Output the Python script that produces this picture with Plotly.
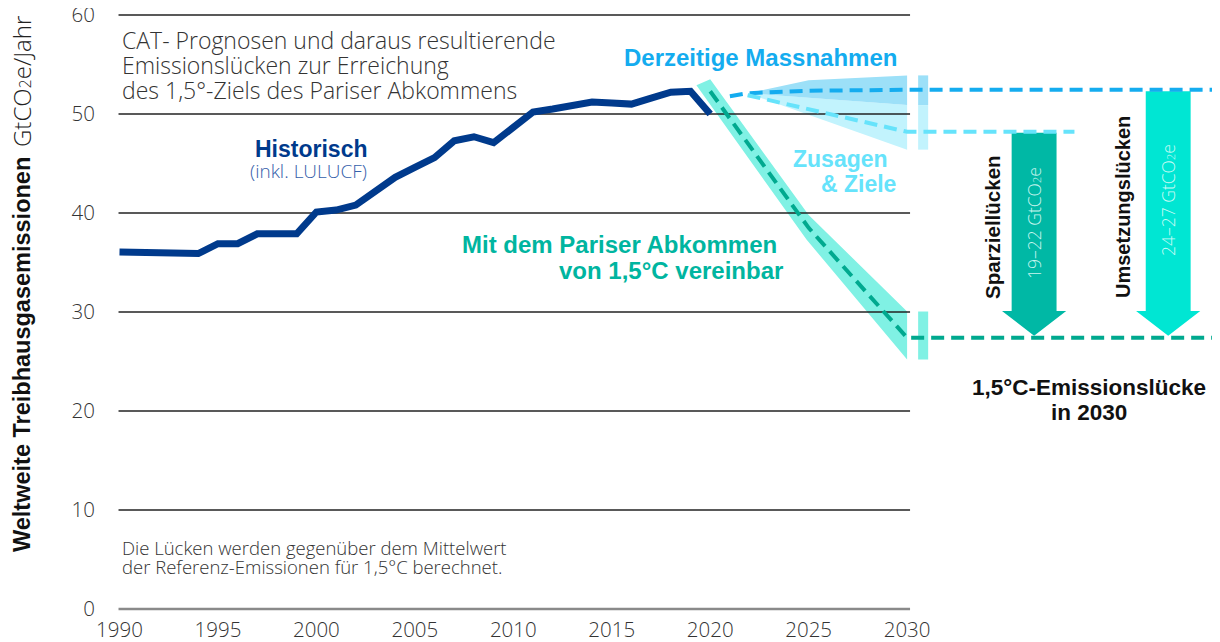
import plotly.graph_objects as go

# ---------------- data ----------------
hist_years = list(range(1990, 2021))
hist_values = [36.05, 36.0, 36.0, 35.95, 35.9, 36.9, 36.9, 37.9, 37.9, 37.9,
               40.1, 40.3, 40.8, 42.2, 43.6, 44.6, 45.6, 47.3, 47.7, 47.1,
               48.7, 50.2, 50.5, 50.8, 51.2, 51.1, 51.0, 51.6, 52.2, 52.3, 50.0]

# current policy projection (dashed) and its range
cpp_years = [2021.0, 2021.9, 2025, 2030]
cpp_values = [51.8, 52.1, 52.35, 52.45]
band_years = [2021.9, 2025, 2030]
cpp_high = [52.1, 53.4, 53.9]
cpp_low = [52.1, 51.65, 50.9]
# pledges & targets
pledge_years = [2021.9, 2030]
pledge_values = [51.9, 48.2]
pledge_low = [52.1, 49.9, 46.4]
# 1.5°C compatible pathway
ref_years = [2020, 2025, 2030]
ref_values = [52.3, 38.5, 27.4]
ref_high_years = [2020.0, 2025.0, 2030]
ref_high = [53.5, 39.8, 30.05]
ref_low_years = [2019.3, 2024.9, 2030]
ref_low = [52.9, 37.3, 25.2]

year_ticks = list(range(1990, 2031, 5))
value_ticks = list(range(0, 61, 10))

# ---------------- layout geometry ----------------
OFF = 8                      # page body margin
FIG_W, FIG_H = 1220 - OFF, 642 - OFF
L, T = 100 - OFF, 0
W = FIG_W - L
H = 612 - OFF
PX_PER_YEAR = 19.69
PX_PER_UNIT = 9.9
X0 = 1990 - (119.5 - 100) / PX_PER_YEAR
X1 = X0 + W / PX_PER_YEAR
Y1 = 60 + (15 - OFF) / PX_PER_UNIT
Y0 = Y1 - H / PX_PER_UNIT
EXT_END = 2047
PLEDGE_EXT_END = 2038.5
BAR_X = (2030.56, 2031.07)
GRID_X = (1989.95, 2030.15)

NAVY = "#003a8c"
CPP_C = "#14acef"
CPP_BAND = "#9ce0f8"
PLEDGE_C = "#66e3fb"
PLEDGE_BAND = "#c2f3fd"
REF_C = "#00a98f"
REF_BAND = "#80f1e4"
SPAR_C = "#00b8a5"
UMS_C = "#00e6d3"
TXT = "#333333"

LIGHT = "Open Sans"
BOLD = "Liberation Sans"

fig = go.Figure()

def poly(xs, ys, color):
    fig.add_trace(go.Scatter(x=xs, y=ys, fill="toself", fillcolor=color,
                             mode="lines", line=dict(width=0, color=color),
                             hoverinfo="skip", showlegend=False))

# pledges band (light) and current policy band (darker)
poly(band_years + band_years[::-1], cpp_low + pledge_low[::-1], PLEDGE_BAND)
poly(band_years + band_years[::-1], cpp_high + cpp_low[::-1], CPP_BAND)
# 1.5°C band
poly(ref_high_years + ref_low_years[::-1], ref_high + ref_low[::-1], REF_BAND)

# range bars at 2030
bx = [BAR_X[0], BAR_X[1], BAR_X[1], BAR_X[0], BAR_X[0]]
poly(bx, [cpp_high[-1], cpp_high[-1], cpp_low[-1], cpp_low[-1], cpp_high[-1]], CPP_BAND)
poly(bx, [cpp_low[-1], cpp_low[-1], pledge_low[-1], pledge_low[-1], cpp_low[-1]], PLEDGE_BAND)
poly(bx, [ref_high[-1], ref_high[-1], ref_low[-1], ref_low[-1], ref_high[-1]], REF_BAND)

# gridlines
gx, gy = [], []
for v in value_ticks[1:]:
    gx += [GRID_X[0], GRID_X[1], None]
    gy += [v, v, None]
fig.add_trace(go.Scatter(x=gx, y=gy, mode="lines", line=dict(color="#222222", width=1.3),
                         hoverinfo="skip", showlegend=False))
fig.add_trace(go.Scatter(x=list(GRID_X), y=[0, 0], mode="lines",
                         line=dict(color="#8a8a8a", width=2.5),
                         hoverinfo="skip", showlegend=False))

# arrows (gaps)
HEAD_LEN = 2.5
def arrow(xc, half_body, half_head, top, tip, color):
    hy = tip + HEAD_LEN
    xs = [xc - half_body, xc + half_body, xc + half_body, xc + half_head, xc,
          xc - half_head, xc - half_body, xc - half_body]
    ys = [top, top, hy, hy, tip, hy, hy, top]
    poly(xs, ys, color)

arrow(2036.45, 1.14, 1.63, pledge_values[-1] - 0.1, ref_values[-1] + 0.2, SPAR_C)
arrow(2043.26, 1.14, 1.63, cpp_values[-1] - 0.15, ref_values[-1] + 0.2, UMS_C)

# historical line
fig.add_trace(go.Scatter(x=hist_years, y=hist_values, mode="lines",
                         line=dict(color=NAVY, width=7), hoverinfo="skip", showlegend=False))

DASH = "13px,7px"
fig.add_trace(go.Scatter(x=cpp_years + [EXT_END], y=cpp_values + [cpp_values[-1]], mode="lines",
                         line=dict(color=CPP_C, width=4, dash=DASH), hoverinfo="skip", showlegend=False))
fig.add_trace(go.Scatter(x=pledge_years + [PLEDGE_EXT_END], y=pledge_values + [pledge_values[-1]],
                         mode="lines", line=dict(color=PLEDGE_C, width=4, dash=DASH),
                         hoverinfo="skip", showlegend=False))
fig.add_trace(go.Scatter(x=ref_years + [EXT_END], y=ref_values + [ref_values[-1]], mode="lines",
                         line=dict(color=REF_C, width=4, dash=DASH), hoverinfo="skip", showlegend=False))

# ---------------- annotations (positions in window pixels) ----------------
def P(px, py):
    return (px - OFF - L) / W, 1 - (py - OFF - T) / H

anns = []
def add(text, px, py, size, color, family=LIGHT, weight=300, xanchor="left", angle=0):
    x, y = P(px, py)
    anns.append(dict(text=text, x=x, y=y, xref="paper", yref="paper", showarrow=False,
                     xanchor=xanchor, yanchor="middle", textangle=angle,
                     font=dict(family=family, size=size, color=color, weight=weight)))

for txt, py in [("CAT- Prognosen und daraus resultierende", 40),
                ("Emissionslücken zur Erreichung", 65),
                ("des 1,5°-Ziels des Pariser Abkommens", 90)]:
    add(txt, 120, py, 23, TXT)

add("Historisch", 369, 149, 23, NAVY, BOLD, 700, "right")
add("(inkl. LULUCF)", 369, 171, 19, "#3560aa", LIGHT, 300, "right")
add("Derzeitige Massnahmen", 760, 57, 24, CPP_C, BOLD, 700, "center")
add("Zusagen", 890, 159, 23, PLEDGE_C, BOLD, 700, "right")
add("& Ziele", 898, 184, 23, PLEDGE_C, BOLD, 700, "right")
add("Mit dem Pariser Abkommen", 779, 245, 24, "#00b5a0", BOLD, 700, "right")
add("von 1,5°C vereinbar", 785, 270, 24, "#00b5a0", BOLD, 700, "right")
add("Sparziellücken", 992, 227, 20.5, "#111111", BOLD, 700, "center", -90)
add("19–22 GtCO<span style='font-size:11px'>2</span>e", 1034, 223, 17.5, "#c9f5ef", LIGHT, 300, "center", -90)
add("Umsetzungslücken", 1123, 207, 20, "#111111", BOLD, 700, "center", -90)
add("24–27 GtCO<span style='font-size:11px'>2</span>e", 1168, 200, 17.5, "#c9fbf5", LIGHT, 300, "center", -90)
add("1,5°C-Emissionslücke", 1089, 387, 22.5, "#111111", BOLD, 700, "center")
add("in 2030", 1089, 412, 22.5, "#111111", BOLD, 700, "center")
add("Die Lücken werden gegenüber dem Mittelwert", 120, 547, 18.5, TXT)
add("der Referenz-Emissionen für 1,5°C berechnet.", 120, 566, 18.5, TXT)
add("Weltweite Treibhausgasemissionen", 22, 355, 23.5, "#111111", BOLD, 700, "center", -90)
add("GtCO<span style='font-size:16px'>2</span>e/Jahr", 22, 82, 24, "#222222", LIGHT, 300, "center", -90)

fig.update_layout(
    width=FIG_W, height=FIG_H,
    margin=dict(l=L, r=0, t=T, b=FIG_H - H - T, autoexpand=False),
    paper_bgcolor="white", plot_bgcolor="white",
    showlegend=False,
    annotations=anns,
    xaxis=dict(range=[X0, X1], tickvals=year_ticks, ticktext=[str(y) for y in year_ticks],
               showgrid=False, zeroline=False, showline=False, ticks="", automargin=False,
               ticklabelstandoff=3, ticklabeloverflow="allow",
               tickfont=dict(family=LIGHT, size=20.5, color=TXT, weight=300)),
    yaxis=dict(range=[Y0, Y1], tickvals=value_ticks, showgrid=False, zeroline=False,
               showline=False, ticks="", ticklabelstandoff=4, ticklabeloverflow="allow",
               automargin=False,
               tickfont=dict(family=LIGHT, size=20.5, color=TXT, weight=300)),
)

fig.write_html("out.html")
